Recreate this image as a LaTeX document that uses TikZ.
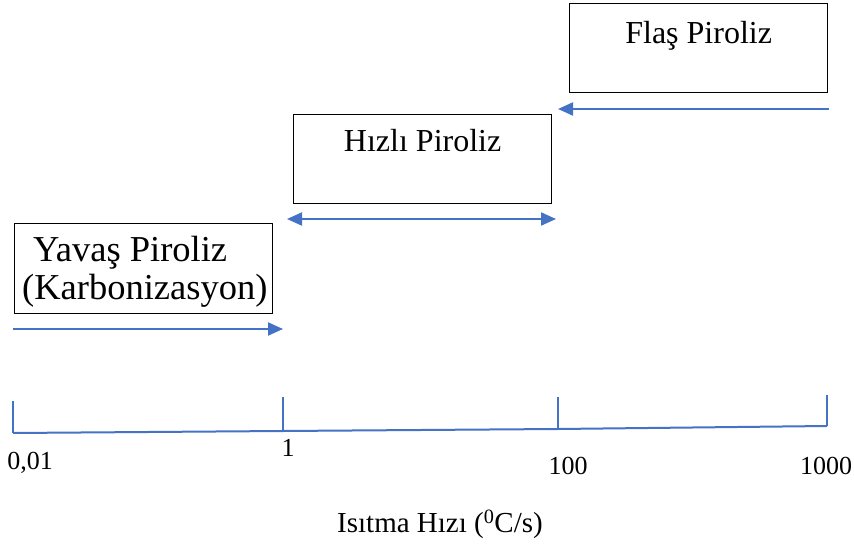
\documentclass[tikz,border=0pt]{standalone}
\usepackage{fontspec}
\setmainfont{Liberation Serif}
\usetikzlibrary{arrows.meta}
\definecolor{axisblue}{HTML}{4472C4}
\tikzset{
  every picture/.style={x=1pt,y=-1pt},
  phasebox/.style={draw=black, line width=1.3pt, inner sep=0pt, anchor=north west},
  phasetext/.style={inner sep=0pt, anchor=base, font=\fontsize{32}{38}\selectfont},
  rangearrow/.style={draw=axisblue, line width=2pt, -{Triangle[length=15pt,width=13pt]}},
  bothways/.style={draw=axisblue, line width=2pt, {Triangle[length=15pt,width=13pt]}-{Triangle[length=15pt,width=13pt]}},
  axisline/.style={draw=axisblue, line width=2pt},
  ticklabel/.style={inner sep=0pt, font=\fontsize{26}{30}\selectfont}
}
\begin{document}
\begin{tikzpicture}
\useasboundingbox (0,0) rectangle (854,548);

% phase boxes
\node[phasebox, minimum width=258pt, minimum height=89pt] (flas) at (569,3) {};
\node[phasetext] (flast) at ([yshift=-41pt]flas.north) {Flaş Piroliz};

\node[phasebox, minimum width=258pt, minimum height=89pt] (hizli) at (293,114) {};
\node[phasetext] (hizlit) at ([yshift=-38pt]hizli.north) {Hızlı Piroliz};

\node[phasebox, minimum width=258pt, minimum height=90pt] (yavas) at (14,223) {};
\node[inner sep=0pt, anchor=base west, align=left, font=\fontsize{36.5}{38}\selectfont]
  (yavast) at ([xshift=8pt,yshift=-76pt]yavas.north west)
  {\hspace*{11pt}Yavaş Piroliz\\(Karbonizasyon)};

% range arrows
\coordinate (fa) at (829,109);
\coordinate (fb) at (558,109);
\draw[rangearrow] (fa) -- (fb);

\coordinate (ha) at (287,219);
\coordinate (hb) at (556,219);
\draw[bothways] (ha) -- (hb);

\coordinate (ya) at (13,329);
\coordinate (yb) at (283,329);
\draw[rangearrow] (ya) -- (yb);

% heating rate axis
\coordinate (b0) at (13,433);
\coordinate (b1) at (283,431);
\coordinate (b2) at (558,429);
\coordinate (b3) at (827,426);
\coordinate (t0) at (13,401);
\coordinate (t1) at (283,397);
\coordinate (t2) at (558,397);
\coordinate (t3) at (827,395);
\draw[axisline] (b0) -- (b1) -- (b2) -- (b3);
\draw[axisline] (t0) -- (b0);
\draw[axisline] (t1) -- (b1);
\draw[axisline] (t2) -- (b2);
\draw[axisline] (t3) -- (b3);

\node[ticklabel] (l0) at (30,463) {0,01};
\node[ticklabel] (l1) at (288,448) {1};
\node[ticklabel] (l2) at (568,466) {100};
\node[ticklabel] (l3) at (826,466) {1000};

\node[ticklabel, font=\fontsize{29}{34}\selectfont] (axtitle) at (440,524) {Isıtma Hızı (\textsuperscript{0}C/s)};
\end{tikzpicture}
\end{document}
